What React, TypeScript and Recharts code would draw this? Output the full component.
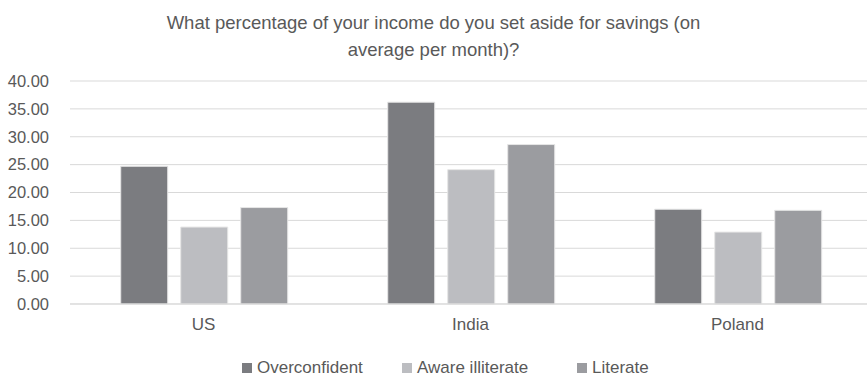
import React from "react";
import { BarChart, Bar, XAxis, YAxis, CartesianGrid, Legend } from "recharts";

const countries = ["US", "India", "Poland"];
const overconfident = [24.7, 36.2, 17.0];
const awareIlliterate = [13.8, 24.1, 12.9];
const literate = [17.3, 28.6, 16.8];
const yTicks = [0, 5, 10, 15, 20, 25, 30, 35, 40];

const series = [
  { key: "overconfident", name: "Overconfident", color: "#7b7c80" },
  { key: "awareIlliterate", name: "Aware illiterate", color: "#bcbdc1" },
  { key: "literate", name: "Literate", color: "#9b9ca0" },
];
const legendWidths = [160, 175, 120];

const data = countries.map((c, i) => ({
  country: c,
  overconfident: overconfident[i],
  awareIlliterate: awareIlliterate[i],
  literate: literate[i],
}));

const FONT = "Liberation Sans, Arial, sans-serif";
const TEXT = "#595959";

const LegendContent = () => (
  <div style={{ display: "flex", paddingLeft: 242, fontFamily: FONT, fontSize: 17, lineHeight: "20px", color: TEXT }}>
    {series.map((s, i) => (
      <div key={s.key} style={{ display: "flex", alignItems: "center", width: legendWidths[i] }}>
        <span style={{ display: "inline-block", width: 10, height: 10, background: s.color, marginRight: 5 }} />
        <span>{s.name}</span>
      </div>
    ))}
  </div>
);

export default function App() {
  return (
    <div style={{ position: "absolute", left: 0, top: 0, width: 867, height: 379, background: "#fff", overflow: "hidden" }}>
      <div
        style={{
          position: "absolute",
          top: 9,
          left: 0,
          width: 867,
          textAlign: "center",
          fontFamily: FONT,
          fontSize: 18.5,
          lineHeight: "27px",
          color: TEXT,
        }}
      >
        What percentage of your income do you set aside for savings (on
        <br />
        average per month)?
      </div>
      <BarChart
        width={867}
        height={379}
        data={data}
        margin={{ top: 81, right: -4, bottom: 45, left: 0 }}
        barCategoryGap="19%"
        barGap={13}
      >
        <CartesianGrid vertical={false} stroke="#d9d9d9" />
        <XAxis
          dataKey="country"
          height={30}
          tickLine={false}
          axisLine={{ stroke: "#d9d9d9" }}
          tick={{ fill: TEXT, fontFamily: FONT, fontSize: 17 }}
          tickMargin={8}
        />
        <YAxis
          width={70}
          domain={[0, 40]}
          ticks={yTicks}
          interval={0}
          tickFormatter={(v: number) => v.toFixed(2)}
          tickLine={false}
          axisLine={false}
          tickSize={0}
          tickMargin={21}
          tick={{ fill: TEXT, fontFamily: FONT, fontSize: 16.5 }}
        />
        <Legend
          verticalAlign="middle"
          layout="horizontal"
          content={<LegendContent />}
          wrapperStyle={{ top: 358, left: 0, width: 867 }}
        />
        {series.map((s) => (
          <Bar
            key={s.key}
            dataKey={s.key}
            name={s.name}
            fill={s.color}
            stroke="#e6e6e6"
            strokeWidth={1}
            isAnimationActive={false}
          />
        ))}
      </BarChart>
    </div>
  );
}
